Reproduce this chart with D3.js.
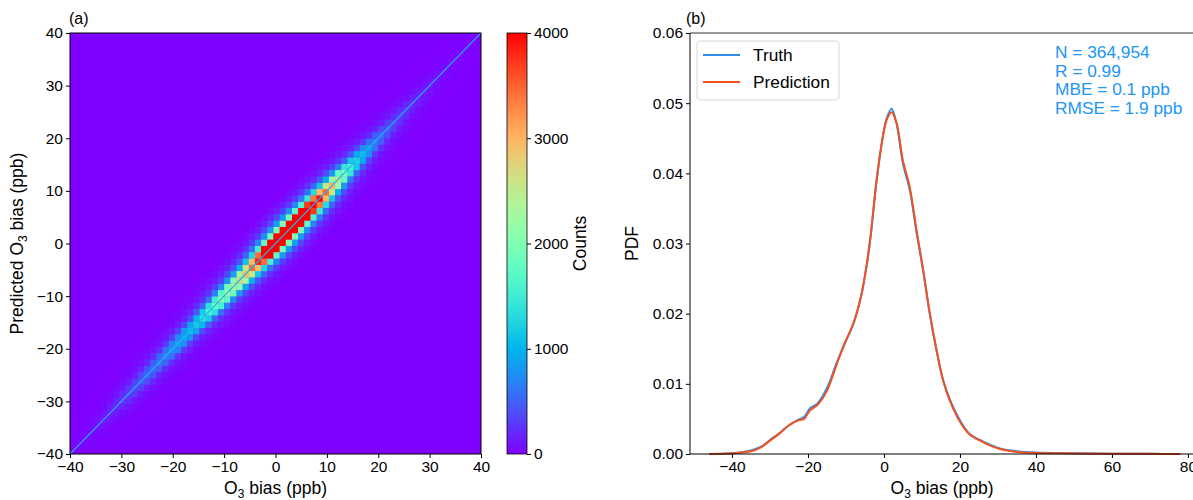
<!DOCTYPE html>
<html>
<head>
<meta charset="utf-8">
<script src="https://cdn.jsdelivr.net/npm/d3@7"></script>
<style>
  body { margin: 0; background: #fff; }
  svg { font-family: "Liberation Sans", Arial, sans-serif; }
</style>
</head>
<body>
<script>
'use strict'

let width = 1193, height = 500

// ---- data ----
// heatmap: bin width 1.2 ppb starting at -40
let binStart = -40, binWidth = 1.2, nBins = 67
// counts on the 1:1 diagonal, one per bin
let diagCounts = [13, 25, 38, 50, 76, 100, 139, 189, 265, 315,
  378, 441, 517, 567, 640, 700, 790, 880, 950, 1060,
  1190, 1370, 1590, 1820, 2030, 2230, 2420, 2680, 2970, 3450,
  3850, 4725, 5418, 5859, 6136, 6111, 5796, 5229, 4851, 4473,
  3969, 3465, 2999, 2495, 1991, 1575, 1285, 1046, 832, 668,
  542, 428, 340, 277, 239, 202, 164, 126, 101, 76,
  63, 50, 38, 38, 25, 25, 25]
// share of the diagonal count kept at 0,1,2.. bins off the diagonal
let offDiag = [1, 0.8, 0.33, 0.14, 0.06, 0.025, 0.01]
let cbTicks = [0, 1000, 2000, 3000, 4000]
let axTicks = [-40, -30, -20, -10, 0, 10, 20, 30, 40]

// PDF curves
let pdfX = [-46, -40, -35, -32.5, -30, -27.5, -25, -22.5, -21, -19.5, -17.5, -15, -12.5, -10.5, -8, -6, -4.5, -3.5, -2, -0.5, 0.7, 2, 3.3, 5, 6.8, 8.6, 10.4, 12, 14, 15.6, 17.4, 20, 22.5, 26, 28, 30.5, 35, 40, 50, 60, 70, 78]
let truth = [0, 0.0001, 0.0005, 0.001, 0.002, 0.003, 0.0041, 0.0049, 0.0053, 0.0065, 0.0072, 0.0094, 0.0129, 0.0155, 0.0186, 0.0225, 0.027, 0.031, 0.0386, 0.0445, 0.0478, 0.0492, 0.0471, 0.0414, 0.0376, 0.0315, 0.0258, 0.0201, 0.0143, 0.0105, 0.0077, 0.0048, 0.0029, 0.0018, 0.0013, 0.0008, 0.0004, 0.0002, 0.0001, 0.00005, 0.00002, 0]
let prediction = [0, 0.0001, 0.0004, 0.0009, 0.0019, 0.0029, 0.0041, 0.0048, 0.005, 0.0062, 0.007, 0.009, 0.0127, 0.0156, 0.0187, 0.0226, 0.0272, 0.0312, 0.0388, 0.0446, 0.0476, 0.0487, 0.0472, 0.0418, 0.038, 0.0318, 0.026, 0.0203, 0.0144, 0.0104, 0.0075, 0.0046, 0.0028, 0.0017, 0.0012, 0.0007, 0.0003, 0.00015, 0.00008, 0.00004, 0.00002, 0]
let pdfXTicks = [-40, -20, 0, 20, 40, 60, 80]
let pdfYTicks = [0, 0.01, 0.02, 0.03, 0.04, 0.05, 0.06]
let statLines = ["N = 364,954", "R = 0.99", "MBE = 0.1 ppb", "RMSE = 1.9 ppb"]
let seriesNames = ["Truth", "Prediction"]
let seriesColors = ["#2f8fe8", "#f4511e"]

// matplotlib "rainbow"
function rainbow(t) {
  t = Math.max(0, Math.min(1, t))
  let r = Math.min(1, Math.abs(2 * t - 0.5))
  let g = Math.sin(Math.PI * t)
  let b = Math.cos(Math.PI * t / 2)
  return d3.rgb(r * 255, g * 255, b * 255).toString()
}

let svg = d3.select("body").append("svg")
  .attr("width", width).attr("height", height)

// ================= (a) heatmap =================
let ax = {left: 70, right: 481, top: 33, bottom: 454}
let xa = d3.scaleLinear().domain([-40, 40]).range([ax.left, ax.right])
let ya = d3.scaleLinear().domain([-40, 40]).range([ax.bottom, ax.top])
let colorScale = d3.scaleSequential(rainbow).domain([0, 4000]).clamp(true)

// build cell table
let cells = []
for (let i = 0; i < nBins; i++) {
  for (let j = 0; j < nBins; j++) {
    let off = Math.abs(i - j)
    let c = 0
    if (off < offDiag.length) {
      let d = (diagCounts[Math.floor((i + j) / 2)] + diagCounts[Math.ceil((i + j) / 2)]) / 2
      c = d * offDiag[off]
    }
    cells.push({x0: binStart + i * binWidth, y0: binStart + j * binWidth, c: c})
  }
}

svg.append("clipPath").attr("id", "clipA")
  .append("rect").attr("x", ax.left).attr("y", ax.top)
  .attr("width", ax.right - ax.left).attr("height", ax.bottom - ax.top)

let gA = svg.append("g").attr("clip-path", "url(#clipA)")
gA.append("rect").attr("x", ax.left).attr("y", ax.top)
  .attr("width", ax.right - ax.left).attr("height", ax.bottom - ax.top)
  .attr("fill", colorScale(0))
gA.selectAll("rect.cell")
  .data(cells.filter(d => d.c > 0))
  .enter().append("rect")
  .attr("class", "cell")
  .attr("x", d => xa(d.x0))
  .attr("y", d => ya(d.y0 + binWidth))
  .attr("width", d => xa(d.x0 + binWidth) - xa(d.x0) + 0.3)
  .attr("height", d => ya(d.y0) - ya(d.y0 + binWidth) + 0.3)
  .attr("fill", d => colorScale(d.c))

// 1:1 line
gA.append("line")
  .attr("x1", xa(-40)).attr("y1", ya(-40))
  .attr("x2", xa(40)).attr("y2", ya(40))
  .attr("stroke", "#1fb4ec").attr("stroke-width", 1.2)

svg.append("rect").attr("x", ax.left).attr("y", ax.top)
  .attr("width", ax.right - ax.left).attr("height", ax.bottom - ax.top)
  .attr("fill", "none").attr("stroke", "#000").attr("stroke-width", 1)

let xAxisA = svg.append("g")
  .attr("transform", "translate(0," + ax.bottom + ")")
  .call(d3.axisBottom(xa).tickValues(axTicks).tickSize(4).tickSizeOuter(0))
let yAxisA = svg.append("g")
  .attr("transform", "translate(" + ax.left + ",0)")
  .call(d3.axisLeft(ya).tickValues(axTicks).tickSize(4).tickSizeOuter(0))

function styleAxis(g) {
  g.select(".domain").remove()
  g.selectAll("text").attr("font-size", 15.5).attr("fill", "#000")
    .attr("font-family", "Liberation Sans, Arial, sans-serif")
  g.selectAll("line").attr("stroke", "#000")
}
styleAxis(xAxisA)
styleAxis(yAxisA)

function o3Label(sel, prefix) {
  sel.append("tspan").text(prefix + "O")
  sel.append("tspan").text("3").attr("font-size", 12).attr("dy", 4)
  sel.append("tspan").text(" bias (ppb)").attr("dy", -4)
}

let xl = svg.append("text").attr("x", (ax.left + ax.right) / 2).attr("y", 494)
  .attr("text-anchor", "middle").attr("font-size", 17.5)
o3Label(xl, "")
let yl = svg.append("text")
  .attr("transform", "translate(23," + (ax.top + ax.bottom) / 2 + ") rotate(-90)")
  .attr("text-anchor", "middle").attr("font-size", 17.5)
o3Label(yl, "Predicted ")

svg.append("text").attr("x", 69).attr("y", 24).attr("font-size", 16).text("(a)")

// colorbar
let cb = {left: 507, right: 527}
let cScale = d3.scaleLinear().domain([0, 4000]).range([ax.bottom, ax.top])
let grad = svg.append("defs").append("linearGradient").attr("id", "cbGrad")
  .attr("x1", 0).attr("y1", 1).attr("x2", 0).attr("y2", 0)
grad.selectAll("stop").data(d3.range(0, 1.0001, 0.05))
  .enter().append("stop")
  .attr("offset", d => d)
  .attr("stop-color", d => rainbow(d))
svg.append("rect").attr("x", cb.left).attr("y", ax.top)
  .attr("width", cb.right - cb.left).attr("height", ax.bottom - ax.top)
  .attr("fill", "url(#cbGrad)").attr("stroke", "#000").attr("stroke-width", 0.8)
let cbAxis = svg.append("g")
  .attr("transform", "translate(" + cb.right + ",0)")
  .call(d3.axisRight(cScale).tickValues(cbTicks).tickFormat(d3.format("d")).tickSize(4).tickSizeOuter(0))
styleAxis(cbAxis)
svg.append("text")
  .attr("transform", "translate(586," + (ax.top + ax.bottom) / 2 + ") rotate(-90)")
  .attr("text-anchor", "middle").attr("font-size", 17.5).text("Counts")

// ================= (b) PDF =================
let bx = {left: 690, right: 1194, top: 33, bottom: 454}
let xb = d3.scaleLinear().domain([-51.05, 81.6]).range([bx.left, bx.right])
let yb = d3.scaleLinear().domain([0, 0.06]).range([bx.bottom, bx.top])

let line = d3.line()
  .x((d, i) => xb(pdfX[i]))
  .y(d => yb(d))
  .curve(d3.curveCatmullRom.alpha(0.5))

let series = [truth, prediction]
svg.selectAll("path.pdf")
  .data(series)
  .enter().append("path")
  .attr("class", "pdf")
  .attr("d", line)
  .attr("fill", "none")
  .attr("stroke", (d, i) => seriesColors[i])
  .attr("stroke-width", 2)

// spines
svg.append("line").attr("x1", bx.left).attr("x2", bx.right)
  .attr("y1", bx.top).attr("y2", bx.top).attr("stroke", "#777").attr("stroke-width", 1.5)
svg.append("line").attr("x1", bx.left).attr("x2", bx.left)
  .attr("y1", bx.top).attr("y2", bx.bottom).attr("stroke", "#000")
svg.append("line").attr("x1", bx.left).attr("x2", bx.right)
  .attr("y1", bx.bottom).attr("y2", bx.bottom).attr("stroke", "#000")

let xAxisB = svg.append("g")
  .attr("transform", "translate(0," + bx.bottom + ")")
  .call(d3.axisBottom(xb).tickValues(pdfXTicks).tickSize(4).tickSizeOuter(0))
let yAxisB = svg.append("g")
  .attr("transform", "translate(" + bx.left + ",0)")
  .call(d3.axisLeft(yb).tickValues(pdfYTicks).tickFormat(d3.format(".2f")).tickSize(4).tickSizeOuter(0))
styleAxis(xAxisB)
styleAxis(yAxisB)

let xlb = svg.append("text").attr("x", 942).attr("y", 494)
  .attr("text-anchor", "middle").attr("font-size", 17.5)
o3Label(xlb, "")
svg.append("text")
  .attr("transform", "translate(638," + (bx.top + bx.bottom) / 2 + ") rotate(-90)")
  .attr("text-anchor", "middle").attr("font-size", 17.5).text("PDF")
svg.append("text").attr("x", 686).attr("y", 24).attr("font-size", 16).text("(b)")

// legend
let lg = svg.append("g").attr("transform", "translate(697,41)")
lg.append("rect").attr("width", 142).attr("height", 59).attr("rx", 3)
  .attr("fill", "#fff").attr("stroke", "#d8d8d8")
let items = lg.selectAll("g.item").data(seriesNames).enter().append("g")
  .attr("class", "item")
  .attr("transform", (d, i) => "translate(0," + (14 + i * 27) + ")")
items.append("line").attr("x1", 6).attr("x2", 43).attr("y1", 0).attr("y2", 0)
  .attr("stroke", (d, i) => seriesColors[i]).attr("stroke-width", 2)
items.append("text").attr("x", 56).attr("y", 6).attr("font-size", 17.3).text(d => d)

// stats text
svg.selectAll("text.stat").data(statLines).enter().append("text")
  .attr("class", "stat")
  .attr("x", 1055).attr("y", (d, i) => 58 + i * 18.5)
  .attr("font-size", 17.3).attr("fill", "#2196f3")
  .text(d => d)
</script>
</body>
</html>
